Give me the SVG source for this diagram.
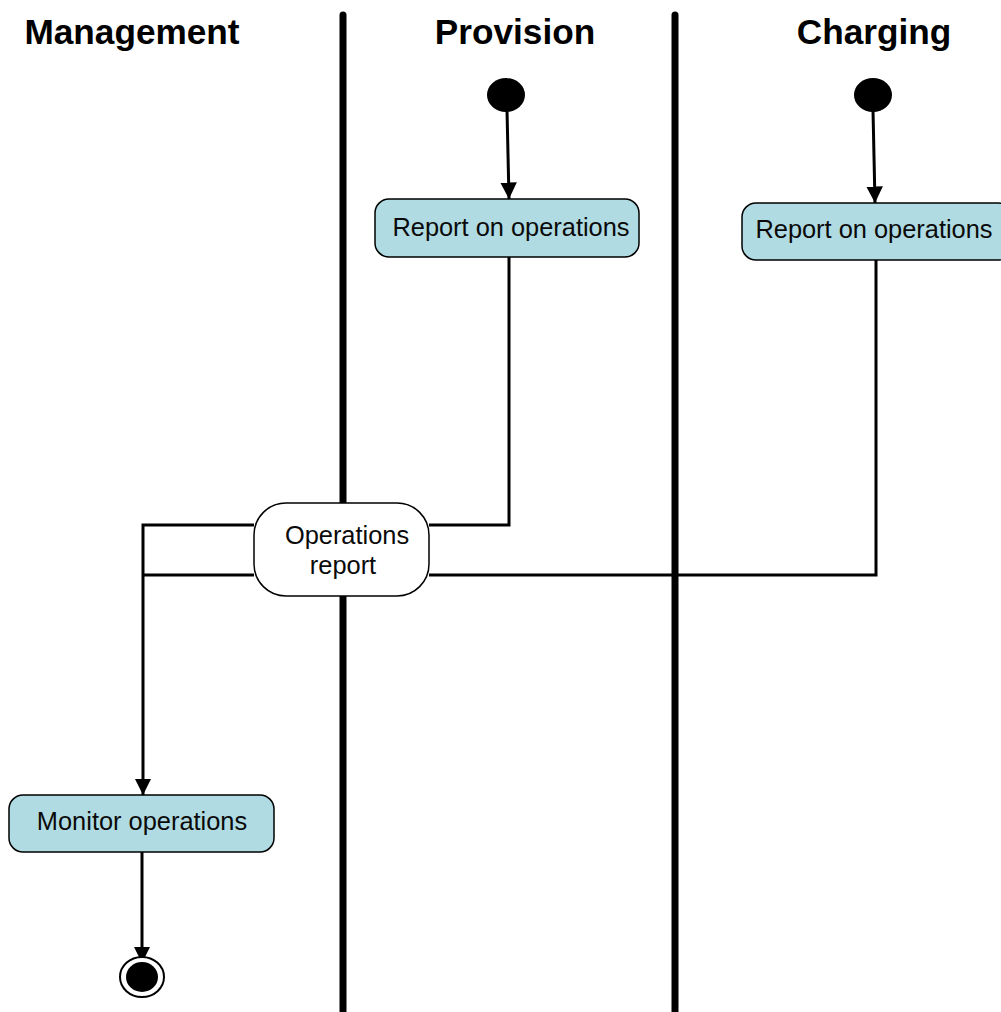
<svg xmlns="http://www.w3.org/2000/svg" width="1001" height="1012" viewBox="0 0 1001 1012">
  <style>
    .lane { stroke: #000; stroke-width: 7; stroke-linecap: round; fill: none; }
    .head { font-family: "Liberation Sans", Arial, sans-serif; font-weight: bold; font-size: 35.2px; fill: #000; text-anchor: middle; }
    .act { fill: #b0dbe2; stroke: #000; stroke-width: 1.5; }
    .obj { fill: #fff; stroke: #000; stroke-width: 1.5; }
    .lbl { font-family: "Liberation Sans", Arial, sans-serif; font-size: 25.4px; fill: #0a0a0a; text-anchor: middle; }
    .flow { stroke: #000; stroke-width: 3; fill: none; }
  </style>
  <defs>
    <marker id="arrow" viewBox="0 0 10 10" refX="10" refY="5" markerWidth="5.5" markerHeight="6" markerUnits="strokeWidth" orient="auto">
      <path d="M0,0 L10,5 L0,10 Z" fill="#000"/>
    </marker>
  </defs>
  <rect width="1001" height="1012" fill="#fff"/>

  <!-- swimlane dividers and headers -->
  <g id="lanes">
    <line class="lane" x1="343" y1="15" x2="343" y2="1015"/>
    <line class="lane" x1="675" y1="15" x2="675" y2="1015"/>
    <text class="head" x="132" y="44">Management</text>
    <text class="head" x="515" y="44">Provision</text>
    <text class="head" x="874" y="44">Charging</text>
  </g>

  <!-- connectors -->
  <g id="connectors">
    <line class="flow" x1="507" y1="110" x2="509" y2="199" marker-end="url(#arrow)"/>
    <line class="flow" x1="873" y1="110" x2="875" y2="203" marker-end="url(#arrow)"/>
    <polyline class="flow" points="509,257 509,525 429,525"/>
    <polyline class="flow" points="876,260 876,575 429,575"/>
    <polyline class="flow" points="254,525 143,525 143,795" marker-end="url(#arrow)"/>
    <line class="flow" x1="254" y1="575" x2="143" y2="575"/>
    <line class="flow" x1="142" y1="852" x2="142" y2="963" marker-end="url(#arrow)"/>
  </g>

  <g id="start-provision">
    <ellipse cx="506" cy="95" rx="19" ry="17" fill="#000"/>
  </g>
  <g id="start-charging">
    <ellipse cx="873" cy="95" rx="19" ry="17" fill="#000"/>
  </g>

  <g id="report-provision">
    <rect class="act" x="375" y="199" width="264" height="58" rx="14"/>
    <text class="lbl" x="511" y="236">Report on operations</text>
  </g>

  <g id="report-charging">
    <rect class="act" x="742" y="203" width="270" height="57" rx="14"/>
    <text class="lbl" x="874" y="238">Report on operations</text>
  </g>

  <g id="operations-report">
    <rect class="obj" x="254" y="503" width="175" height="93" rx="32"/>
    <text class="lbl" x="347" y="544">Operations</text>
    <text class="lbl" x="343" y="574">report</text>
  </g>

  <g id="monitor-operations">
    <rect class="act" x="9" y="795" width="265" height="57" rx="14"/>
    <text class="lbl" x="142" y="830">Monitor operations</text>
  </g>

  <g id="end">
    <ellipse cx="142" cy="977" rx="22" ry="20" fill="#fff" stroke="#000" stroke-width="2"/>
    <ellipse cx="142" cy="977" rx="16" ry="15" fill="#000"/>
  </g>
</svg>
